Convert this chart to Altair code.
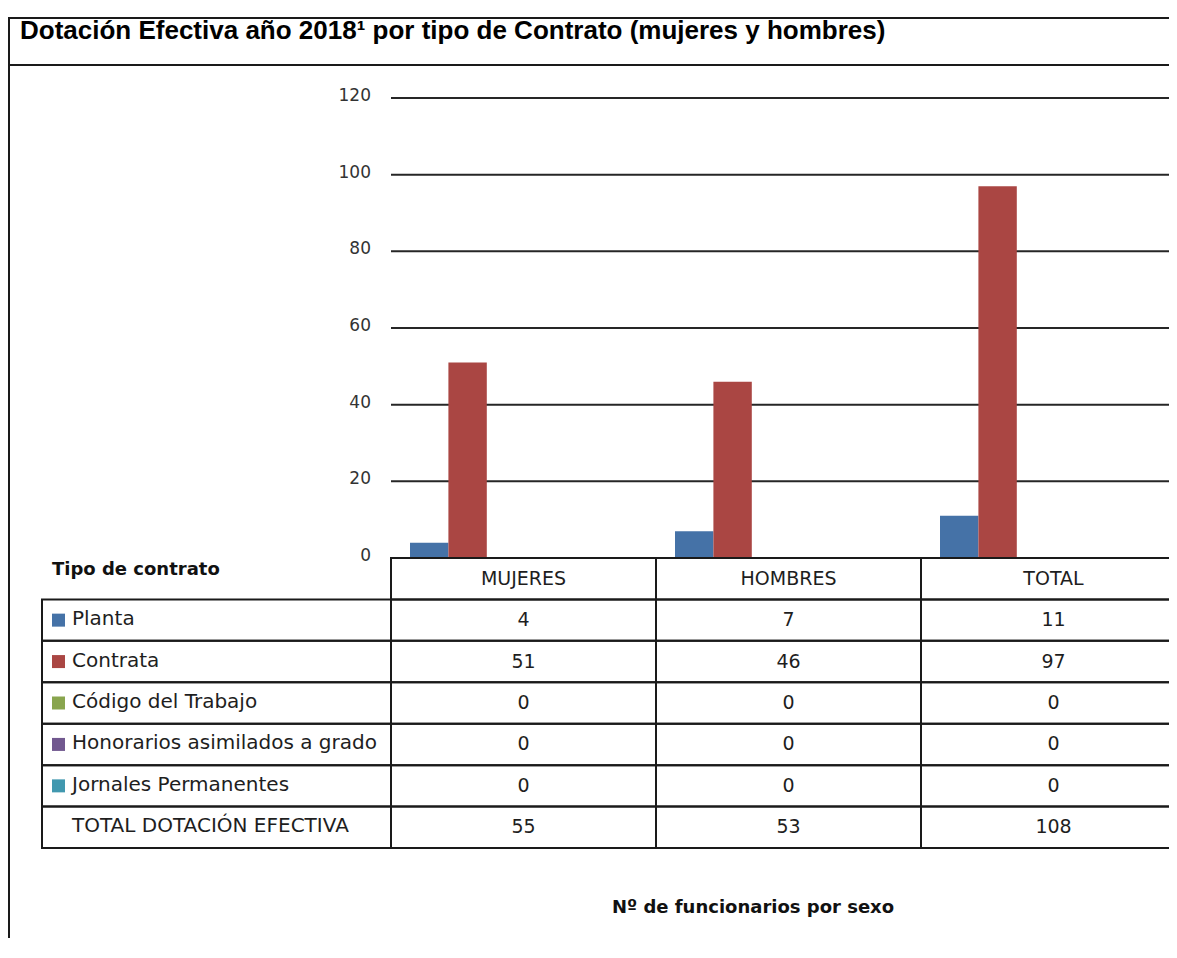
import altair as alt
import pandas as pd

# ---------------- data ----------------
categories = ["MUJERES", "HOMBRES", "TOTAL"]
series = ["Planta", "Contrata", "Código del Trabajo",
          "Honorarios asimilados a grado", "Jornales Permanentes"]
series_colors = ["#4572A7", "#AA4643", "#89A54E", "#71588F", "#4198AF"]
planta = [4, 7, 11]
contrata = [51, 46, 97]
codigo = [0, 0, 0]
honorarios = [0, 0, 0]
jornales = [0, 0, 0]
total_row_label = "TOTAL DOTACIÓN EFECTIVA"
totals = [55, 53, 108]
y_ticks = [0, 20, 40, 60, 80, 100, 120]
title_text = "Dotación Efectiva año 2018¹ por tipo de Contrato (mujeres y hombres)"
table_header = "Tipo de contrato"
x_title = "Nº de funcionarios por sexo"

values_by_series = [planta, contrata, codigo, honorarios, jornales]

# ---------------- tables ----------------
bars_df = pd.DataFrame([
    {"cat": c, "serie": s, "value": vals[i]}
    for s, vals in zip(series, values_by_series)
    for i, c in enumerate(categories)
])

HEADER = "__header__"
rows = [HEADER] + series + [total_row_label]

cells = []
for i, c in enumerate(categories):
    cells.append({"cat": c, "row": HEADER, "txt": c})
    for s, vals in zip(series, values_by_series):
        cells.append({"cat": c, "row": s, "txt": str(vals[i])})
    cells.append({"cat": c, "row": total_row_label, "txt": str(totals[i])})
cells_df = pd.DataFrame(cells)

labels_df = pd.DataFrame(
    [{"row": s, "serie": s, "txt": s} for s in series]
    + [{"row": total_row_label, "serie": "", "txt": total_row_label}]
)
squares_df = pd.DataFrame([{"row": s, "serie": s} for s in series])
ticks_df = pd.DataFrame({"v": y_ticks})
grid_df = pd.DataFrame({"v": y_ticks[1:]})
one = pd.DataFrame({"k": [0]})

# ---------------- layout ----------------
W, H = 1161, 930
FONT = "DejaVu Sans"
TXT = "#1e1e1e"
LINE = "#1a1a1a"

x_scale = alt.Scale(domain=categories, range=[383, 1178], paddingInner=0, paddingOuter=0)
off_scale = alt.Scale(domain=series, range=[19, 211], paddingInner=0, paddingOuter=0)
y_scale = alt.Scale(domain=[0, 120], range=[550, 90], nice=False, zero=False)
row_scale = alt.Scale(domain=rows, range=[550, 840], paddingInner=0, paddingOuter=0)
color_scale = alt.Scale(domain=series, range=series_colors)

X = alt.X("cat:N", scale=x_scale, axis=None, sort=categories)
ROW = alt.Y("row:N", scale=row_scale, axis=None, sort=rows)

frame_title = alt.Chart(one).mark_rect(fillOpacity=0, stroke=LINE, strokeWidth=2).encode(
    x=alt.value(1), x2=alt.value(W + 20), y=alt.value(10), y2=alt.value(57))
frame_body = alt.Chart(one).mark_rect(fillOpacity=0, stroke=LINE, strokeWidth=2).encode(
    x=alt.value(1), x2=alt.value(W + 20), y=alt.value(57), y2=alt.value(H + 20))

title = alt.Chart(one).mark_text(
    text=title_text, font="Liberation Sans", fontWeight="bold", fontSize=26,
    align="left", baseline="alphabetic", color="#000000").encode(
    x=alt.value(12), y=alt.value(31))

grid = alt.Chart(grid_df).mark_rule(color="#262626", strokeWidth=2).encode(
    y=alt.Y("v:Q", scale=y_scale, axis=None), x=alt.value(383), x2=alt.value(W))

tick_labels = alt.Chart(ticks_df).mark_text(
    font=FONT, fontSize=17, align="right", baseline="middle", color="#333333", dy=-2).encode(
    y=alt.Y("v:Q", scale=y_scale, axis=None), x=alt.value(363), text="v:Q")

bars = alt.Chart(bars_df).mark_bar().encode(
    x=X,
    xOffset=alt.XOffset("serie:N", scale=off_scale, sort=series),
    y=alt.Y("value:Q", scale=y_scale, axis=None),
    color=alt.Color("serie:N", scale=color_scale, legend=None),
)

cell_rects = alt.Chart(cells_df).mark_rect(fillOpacity=0, stroke=LINE, strokeWidth=2).encode(
    x=X, y=ROW)
label_rects = alt.Chart(labels_df).mark_rect(fillOpacity=0, stroke=LINE, strokeWidth=2).encode(
    x=alt.value(34), x2=alt.value(383), y=ROW)

cell_text = alt.Chart(cells_df).mark_text(
    font=FONT, fontSize=19, align="center", baseline="middle", color=TXT).encode(
    x=X, y=ROW, text="txt:N")
label_text = alt.Chart(labels_df).mark_text(
    font=FONT, fontSize=20, align="left", baseline="middle", color=TXT, dy=-1).encode(
    x=alt.value(64), y=ROW, text="txt:N")
squares = alt.Chart(squares_df).mark_square(size=169, opacity=1).encode(
    x=alt.value(50.5), y=ROW,
    color=alt.Color("serie:N", scale=color_scale, legend=None))

header_text = alt.Chart(one).mark_text(
    text=table_header, font=FONT, fontWeight="bold", fontSize=18,
    align="left", baseline="middle", color="#111111").encode(
    x=alt.value(44), y=alt.value(562))
xtitle_text = alt.Chart(one).mark_text(
    text=x_title, font=FONT, fontWeight="bold", fontSize=18,
    align="center", baseline="middle", color="#111111").encode(
    x=alt.value(745), y=alt.value(900))

chart = alt.layer(
    frame_title, frame_body, title, grid, tick_labels, bars,
    cell_rects, label_rects, cell_text, label_text, squares,
    header_text, xtitle_text,
).resolve_scale(
    x="independent", y="independent", color="independent", xOffset="independent"
).properties(
    width=W, height=H, padding=0, autosize=alt.AutoSizeParams(type="none"),
    background="white",
).configure_view(stroke=None)

chart.save("out.html", embed_options={"renderer": "svg", "actions": False})
